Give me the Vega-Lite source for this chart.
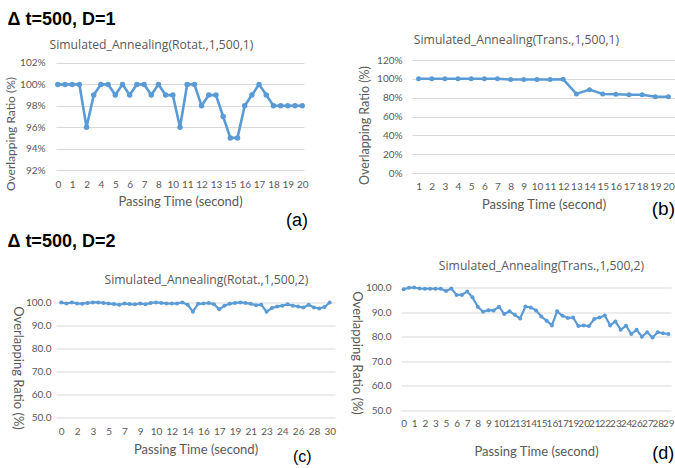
{
  "$schema": "https://vega.github.io/schema/vega-lite/v6.json",
  "padding": {"left": 4, "top": 10, "right": 0, "bottom": 0},
  "background": "white",
  "spacing": 2.5,
  "datasets": {
    "a": [
      {"i":0,"v":100},{"i":1,"v":100},{"i":2,"v":100},{"i":3,"v":100},{"i":4,"v":96},{"i":5,"v":99},{"i":6,"v":100},{"i":7,"v":100},{"i":8,"v":99},{"i":9,"v":100},
      {"i":10,"v":99},{"i":11,"v":100},{"i":12,"v":100},{"i":13,"v":99},{"i":14,"v":100},{"i":15,"v":99},{"i":16,"v":99},{"i":17,"v":96},{"i":18,"v":100},{"i":19,"v":100},
      {"i":20,"v":98},{"i":21,"v":99},{"i":22,"v":99},{"i":23,"v":97},{"i":24,"v":95},{"i":25,"v":95},{"i":26,"v":98},{"i":27,"v":99},{"i":28,"v":100},{"i":29,"v":99},
      {"i":30,"v":98},{"i":31,"v":98},{"i":32,"v":98},{"i":33,"v":98},{"i":34,"v":98}
    ],
    "b": [
      {"i":1,"v":100},{"i":2,"v":100},{"i":3,"v":100},{"i":4,"v":100},{"i":5,"v":100},{"i":6,"v":100},{"i":7,"v":100},{"i":8,"v":99.2},{"i":9,"v":99.2},{"i":10,"v":99.2},
      {"i":11,"v":99.2},{"i":12,"v":99.5},{"i":13,"v":84},{"i":14,"v":88.5},{"i":15,"v":84},{"i":16,"v":83.5},{"i":17,"v":83},{"i":18,"v":83},{"i":19,"v":81},{"i":20,"v":81}
    ],
    "c": [
      {"i":0,"v":100},{"i":1,"v":99.5},{"i":2,"v":100},{"i":3,"v":99.6},{"i":4,"v":99.4},{"i":5,"v":99.8},{"i":6,"v":100},{"i":7,"v":100},{"i":8,"v":99.8},{"i":9,"v":99.5},
      {"i":10,"v":99.3},{"i":11,"v":99.0},{"i":12,"v":99.5},{"i":13,"v":99.3},{"i":14,"v":99.2},{"i":15,"v":99.6},{"i":16,"v":99.2},{"i":17,"v":99.8},{"i":18,"v":100},{"i":19,"v":99.8},
      {"i":20,"v":99.6},{"i":21,"v":99.5},{"i":22,"v":99.6},{"i":23,"v":100},{"i":24,"v":99.0},{"i":25,"v":96.0},{"i":26,"v":99.4},{"i":27,"v":99.5},{"i":28,"v":99.8},{"i":29,"v":99.2},
      {"i":30,"v":97.0},{"i":31,"v":98.6},{"i":32,"v":99.4},{"i":33,"v":99.8},{"i":34,"v":100},{"i":35,"v":99.8},{"i":36,"v":99.4},{"i":37,"v":98.8},{"i":38,"v":99.0},{"i":39,"v":96.0},
      {"i":40,"v":97.6},{"i":41,"v":98.2},{"i":42,"v":98.6},{"i":43,"v":99.2},{"i":44,"v":98.6},{"i":45,"v":98.2},{"i":46,"v":97.8},{"i":47,"v":99.0},{"i":48,"v":97.8},{"i":49,"v":97.4},
      {"i":50,"v":98.0},{"i":51,"v":100}
    ],
    "d": [
      {"i":0,"v":99.3},{"i":1,"v":99.9},{"i":2,"v":100},{"i":3,"v":99.6},{"i":4,"v":99.5},{"i":5,"v":99.5},{"i":6,"v":99.5},{"i":7,"v":99.5},{"i":8,"v":98.6},{"i":9,"v":99.6},
      {"i":10,"v":97.0},{"i":11,"v":97.0},{"i":12,"v":98.4},{"i":13,"v":96.0},{"i":14,"v":92.2},{"i":15,"v":90.1},{"i":16,"v":90.8},{"i":17,"v":90.7},{"i":18,"v":92.2},{"i":19,"v":89.2},
      {"i":20,"v":90.3},{"i":21,"v":88.9},{"i":22,"v":87.4},{"i":23,"v":92.3},{"i":24,"v":91.9},{"i":25,"v":90.7},{"i":26,"v":88.2},{"i":27,"v":86.5},{"i":28,"v":84.6},{"i":29,"v":90.3},
      {"i":30,"v":88.5},{"i":31,"v":87.6},{"i":32,"v":87.8},{"i":33,"v":84.3},{"i":34,"v":84.6},{"i":35,"v":84.3},{"i":36,"v":87.2},{"i":37,"v":87.8},{"i":38,"v":88.6},{"i":39,"v":84.6},
      {"i":40,"v":86.2},{"i":41,"v":82.8},{"i":42,"v":84.5},{"i":43,"v":81.1},{"i":44,"v":82.8},{"i":45,"v":80.0},{"i":46,"v":81.8},{"i":47,"v":79.7},{"i":48,"v":81.8},{"i":49,"v":81.4},
      {"i":50,"v":81.1}
    ]
  },
  "vconcat": [
    {
      "title": {"text": "Δ t=500, D=1", "anchor": "start", "font": "Liberation Sans", "fontSize": 18, "fontWeight": "bold", "color": "#000000", "offset": 5.3, "dx": 3},
      "spacing": 49,
      "hconcat": [
        {
          "title": {"text": "(a)", "orient": "bottom", "anchor": "end", "font": "Liberation Sans", "fontSize": 18, "fontWeight": "normal", "color": "#000000", "offset": 4},
          "vconcat": [
            {
              "title": {"text": "Simulated_Annealing(Rotat.,1,500,1)", "frame": "group", "anchor": "middle", "offset": 7, "dx": -28.5},
              "width": 248, "height": 110,
              "data": {"name": "a"},
              "mark": {"type": "line", "color": "#5B9BD5", "strokeWidth": 2.6, "point": {"filled": true, "size": 30, "color": "#5B9BD5"}},
              "encoding": {
                "x": {"field": "i", "type": "ordinal", "scale": {"padding": 0.25}, "axis": {"title": "Passing Time (second)", "labelPadding": 9, "values": [0,2,4,6,8,10,12,14,16,18,20,22,24,26,28,30,32,34], "labelExpr": "['0','1','2','4','5','6','7','8','10','11','12','13','15','16','17','18','19','20'][datum.value/2]"}},
                "y": {"field": "v", "type": "quantitative", "scale": {"domain": [92, 102.28], "nice": false}, "axis": {"title": "Overlapping Ratio (%)", "titleFontSize": 12, "titlePadding": 2, "labelPadding": 11, "titleY": 73.5, "values": [92,94,96,98,100,102], "labelExpr": "datum.value + '%'"}}
              }
            }
          ]
        },
        {
          "title": {"text": "(b)", "orient": "bottom", "anchor": "end", "font": "Liberation Sans", "fontSize": 19, "fontWeight": "normal", "color": "#000000", "offset": -11},
          "vconcat": [
            {
              "title": {"text": "Simulated_Annealing(Trans.,1,500,1)", "frame": "group", "anchor": "middle", "offset": 9, "dx": -27},
              "width": 263, "height": 113,
              "data": {"name": "b"},
              "mark": {"type": "line", "color": "#5B9BD5", "strokeWidth": 2.5, "point": {"filled": true, "size": 25, "color": "#5B9BD5"}},
              "encoding": {
                "x": {"field": "i", "type": "ordinal", "axis": {"title": "Passing Time (second)", "labelPadding": 8, "titlePadding": 7}},
                "y": {"field": "v", "type": "quantitative", "scale": {"domain": [0, 120]}, "axis": {"title": "Overlapping Ratio (%)", "titleFontSize": 12.5, "titleY": 65, "values": [0,20,40,60,80,100,120], "labelExpr": "datum.value + '%'", "labelPadding": 10, "titlePadding": 5}}
              }
            }
          ]
        }
      ]
    },
    {
      "title": {"text": "Δ t=500, D=2", "anchor": "start", "font": "Liberation Sans", "fontSize": 18, "fontWeight": "bold", "color": "#000000", "offset": 9.8, "dx": -3},
      "spacing": 13,
      "hconcat": [
        {
          "title": {"text": "(c)", "orient": "bottom", "anchor": "end", "font": "Liberation Sans", "fontSize": 16, "fontWeight": "normal", "color": "#000000", "offset": -8, "dx": -24},
          "vconcat": [
            {
              "title": {"text": "Simulated_Annealing(Rotat.,1,500,2)", "frame": "group", "anchor": "middle", "offset": 1, "dx": 11},
              "width": 279, "height": 130,
              "data": {"name": "c"},
              "mark": {"type": "line", "color": "#5B9BD5", "strokeWidth": 2.2, "point": {"filled": true, "size": 16, "color": "#5B9BD5"}},
              "encoding": {
                "x": {"field": "i", "type": "ordinal", "scale": {"padding": 1.35}, "axis": {"title": "Passing Time (second)", "labelPadding": 9, "titlePadding": 7, "values": [0,3,6,9,12,15,18,21,24,27,30,33,36,39,42,45,48,51], "labelExpr": "['0','2','3','5','7','9','10','12','14','16','17','19','21','23','24','26','28','30'][datum.value/3]"}},
                "y": {"field": "v", "type": "quantitative", "scale": {"domain": [50, 106.5], "nice": false}, "axis": {"title": "Overlapping Ratio (%)", "titleAngle": 90, "titleBaseline": "top", "titlePadding": 2, "titleY": 80, "labelPadding": 5, "values": [50,60,70,80,90,100], "format": ".1f"}}
              }
            }
          ]
        },
        {
          "title": {"text": "(d)", "orient": "bottom", "anchor": "end", "font": "Liberation Sans", "fontSize": 18, "fontWeight": "normal", "color": "#000000", "offset": -13.5},
          "vconcat": [
            {
              "title": {"text": "Simulated_Annealing(Trans.,1,500,2)", "frame": "group", "anchor": "middle", "offset": 10, "dx": 5.5},
              "width": 270, "height": 123,
              "data": {"name": "d"},
              "mark": {"type": "line", "color": "#5B9BD5", "strokeWidth": 2.2, "point": {"filled": true, "size": 16, "color": "#5B9BD5"}},
              "encoding": {
                "x": {"field": "i", "type": "ordinal", "axis": {"title": "Passing Time (second)", "labelPadding": 8, "titlePadding": 17, "values": [0,2,4,6,8,10,12,14,16,18,20,22,24,26,28,30,32,34,36,38,40,42,44,46,48,50], "labelExpr": "['0','1','2','3','5','6','7','8','9','10','12','13','14','15','16','17','19','20','21','22','23','24','26','27','28','29'][datum.value/2]"}},
                "y": {"field": "v", "type": "quantitative", "scale": {"domain": [50, 100]}, "axis": {"title": "Overlapping Ratio (%)", "titleAngle": 90, "titleBaseline": "top", "titlePadding": 3, "titleY": 65, "labelPadding": 10, "values": [50,60,70,80,90,100], "format": ".1f"}}
              }
            }
          ]
        }
      ]
    }
  ],
  "config": {
    "view": {"stroke": null},
    "font": "Lato",
    "axis": {"domain": false, "ticks": false, "labelColor": "#595959", "titleColor": "#595959", "labelFont": "Lato", "titleFont": "Lato", "titleFontWeight": "normal", "labelFontSize": 10, "titleFontSize": 13, "gridColor": "#D9D9D9", "gridWidth": 1},
    "axisX": {"grid": false, "labelAngle": 0, "labelPadding": 7, "titlePadding": 6},
    "axisY": {"labelPadding": 9, "titlePadding": 4},
    "title": {"font": "Open Sans", "fontWeight": "normal", "color": "#595959", "fontSize": 12.2}
  }
}
